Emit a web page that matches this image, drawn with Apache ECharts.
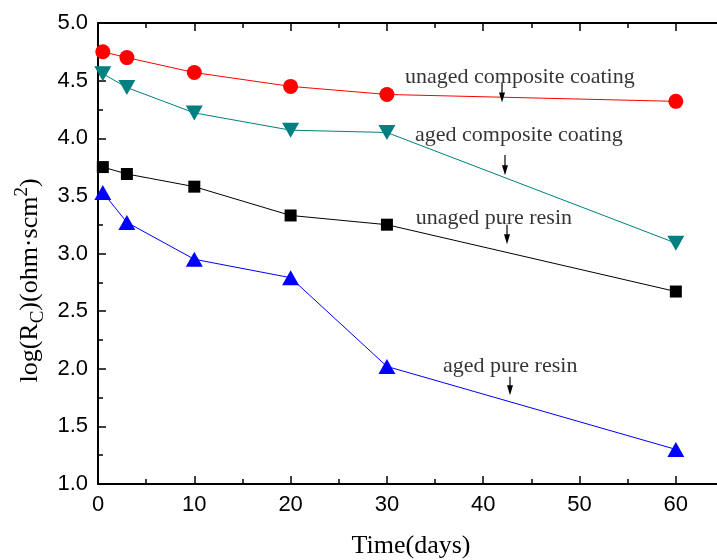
<!DOCTYPE html>
<html>
<head>
<meta charset="utf-8">
<script src="https://cdn.jsdelivr.net/npm/echarts@6/dist/echarts.min.js"></script>
<style>html,body{margin:0;padding:0;background:#fff}#c{width:717px;height:560px}</style>
</head>
<body>
<div id="c"></div>
<script>
var days = [0.5, 3, 10, 20, 30, 60];
var unagedComposite = [4.75, 4.70, 4.57, 4.45, 4.38, 4.32];
var agedComposite = [4.56, 4.44, 4.22, 4.07, 4.05, 3.09];
var unagedResin = [3.75, 3.69, 3.58, 3.33, 3.25, 2.67];
var agedResin = [3.53, 3.27, 2.95, 2.79, 2.02, 1.30];

var annoText = ['unaged composite coating', 'aged composite coating', 'unaged pure resin', 'aged pure resin'];
var annoX = [43.8, 43.7, 41.1, 42.8];
var annoY = [4.53, 4.03, 3.31, 2.02];
var arrowX = [41.95, 42.26, 42.47, 42.78];
var arrowTop = [4.48, 3.855, 3.25, 1.93];
var arrowBottom = [4.31, 3.68, 3.08, 1.77];

function pairs(xs, ys) { return xs.map(function (x, i) { return [x, ys[i]]; }); }

var chart = echarts.init(document.getElementById('c'), null, { renderer: 'canvas' });

function lineSeries(name, data, color, symbol, size) {
  return {
    name: name, type: 'line', data: pairs(days, data),
    symbol: symbol, symbolSize: size,
    lineStyle: { color: color, width: 1 },
    itemStyle: { color: color },
    z: 3
  };
}

var axisCommon = {
  axisLine: { lineStyle: { color: '#000', width: 2 } },
  axisTick: { inside: true, length: 8, lineStyle: { color: '#000', width: 1.5 } },
  minorTick: { show: true, splitNumber: 2, length: 5, lineStyle: { color: '#000', width: 1.5 } },
  splitLine: { show: false }
};

var option = {
  animation: false,
  backgroundColor: '#fff',
  grid: { left: 98, top: 23, bottom: 76, right: -7, containLabel: false, outerBoundsMode: 'none' },
  xAxis: [
    Object.assign({
      type: 'value', min: 0, max: 65, interval: 10, position: 'bottom',
      name: 'Time(days)', nameLocation: 'middle', nameGap: 49, nameMoveOverlap: false,
      nameTextStyle: { fontFamily: 'Liberation Serif', fontSize: 26, color: '#000' },
      axisLabel: { fontFamily: 'Liberation Sans', fontSize: 22, color: '#000', margin: 10, showMaxLabel: false }
    }, axisCommon),
    Object.assign({
      type: 'value', min: 0, max: 65, interval: 10, position: 'top',
      axisLabel: { show: false }
    }, axisCommon)
  ],
  yAxis: [
    Object.assign({
      type: 'value', min: 1, max: 5, interval: 0.5,
      name: '{a|log(R}{sub|C}{a|)(ohm·scm}{sup|2}{a|)}',
      nameLocation: 'middle', nameGap: 50, nameRotate: 90, nameMoveOverlap: false,
      nameTextStyle: {
        color: '#000',
        padding: [0, 54, 0, 0],
        rich: {
          a: { fontFamily: 'Liberation Serif', fontSize: 26, color: '#000' },
          sub: { fontFamily: 'Liberation Serif', fontSize: 19, color: '#000', padding: [16, 0, 0, 0] },
          sup: { fontFamily: 'Liberation Serif', fontSize: 19, color: '#000', padding: [0, 0, 16, 0] }
        }
      },
      axisLabel: {
        fontFamily: 'Liberation Sans', fontSize: 22, color: '#000', margin: 10,
        formatter: function (v) { return v.toFixed(1); }
      }
    }, axisCommon)
  ],
  series: [
    lineSeries('unaged composite coating', unagedComposite, '#ff0000', 'circle', 15),
    lineSeries('aged composite coating', agedComposite, '#008080', 'path://M0,0 L10,0 L5,9 Z', [17, 15]),
    lineSeries('unaged pure resin', unagedResin, '#000000', 'rect', 12),
    lineSeries('aged pure resin', agedResin, '#0000ff', 'triangle', [17, 15]),
    {
      type: 'scatter', symbolSize: 0, silent: true, z: 5,
      itemStyle: { color: '#000' },
      data: annoText.map(function (t, i) { return { value: [annoX[i], annoY[i]], name: t }; }),
      label: {
        show: true, position: 'inside', formatter: '{b}',
        fontFamily: 'Liberation Serif', fontSize: 22, color: '#000', textBorderWidth: 0
      }
    },
    {
      type: 'custom', silent: true, z: 6,
      data: arrowX.map(function (x, i) { return [x, arrowTop[i], arrowBottom[i]]; }),
      renderItem: function (params, api) {
        var p1 = api.coord([api.value(0), api.value(1)]);
        var p2 = api.coord([api.value(0), api.value(2)]);
        var hw = 3, hh = 10;
        return {
          type: 'group',
          children: [
            { type: 'line', shape: { x1: p1[0], y1: p1[1], x2: p2[0], y2: p2[1] - hh + 1 },
              style: { stroke: '#000', lineWidth: 1.2 } },
            { type: 'polygon', shape: { points: [[p2[0] - hw, p2[1] - hh], [p2[0] + hw, p2[1] - hh], [p2[0], p2[1]]] },
              style: { fill: '#000' } }
          ]
        };
      }
    }
  ]
};
chart.setOption(option);
</script>
</body>
</html>
